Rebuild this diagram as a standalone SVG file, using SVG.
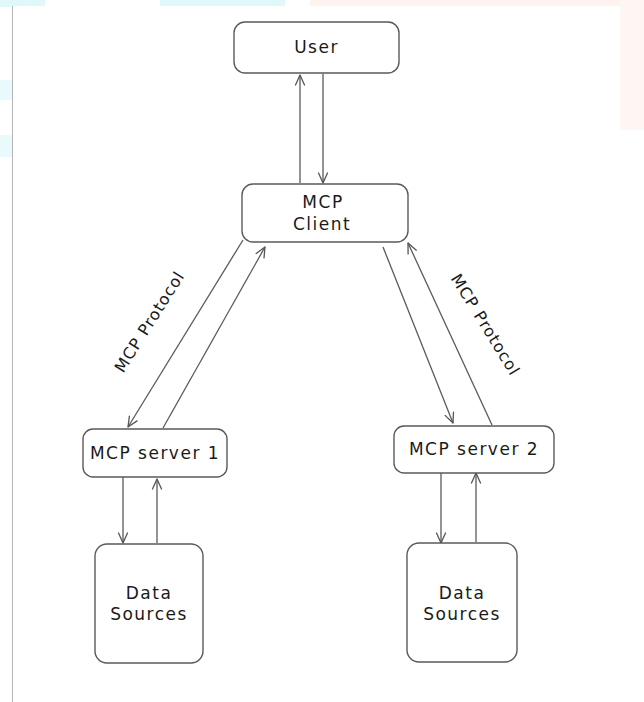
<svg xmlns="http://www.w3.org/2000/svg" width="644" height="702" viewBox="0 0 644 702">
  <defs>
    <marker id="arr" viewBox="0 0 12 12" refX="11" refY="6" markerWidth="12" markerHeight="12" markerUnits="userSpaceOnUse" orient="auto">
      <path d="M1,1.5 L11,6 L1,10.5" fill="none" stroke="#555" stroke-width="1.3" stroke-linecap="round" stroke-linejoin="round"/>
    </marker>
  </defs>
  <style>
    .box { fill: #ffffff; stroke: #5a5a5a; stroke-width: 1.4; }
    .lbl { font-family: "DejaVu Sans", "Liberation Sans", sans-serif; font-size: 17px; fill: #1a1a1a; text-anchor: middle; letter-spacing: 1.5px; }
    .edge-lbl { font-family: "DejaVu Sans", "Liberation Sans", sans-serif; font-size: 16px; fill: #1a1a1a; text-anchor: middle; letter-spacing: 1px; }
    .conn line { stroke: #5a5a5a; stroke-width: 1.3; marker-end: url(#arr); }
  </style>

  <!-- background / watermark fragments -->
  <rect x="0" y="0" width="644" height="702" fill="#ffffff"/>
  <rect x="0" y="0" width="45" height="7" fill="#dff8fa"/>
  <rect x="160" y="0" width="125" height="7" fill="#dff8fa"/>
  <rect x="310" y="0" width="310" height="7" fill="#fef3ee"/>
  <rect x="620" y="0" width="24" height="130" fill="#fef6f2"/>
  <rect x="0" y="80" width="12" height="20" fill="#e8fafb"/>
  <rect x="0" y="135" width="12" height="22" fill="#e8fafb"/>
  <rect x="12" y="6" width="608" height="696" fill="#ffffff"/>
  <line x1="12.5" y1="6" x2="12.5" y2="702" stroke="#b4b4b4" stroke-width="1"/>

  <g id="connectors" class="conn">
    <line x1="300" y1="183" x2="300" y2="75"/>
    <line x1="323" y1="74" x2="323" y2="183"/>
    <line x1="243" y1="240" x2="128" y2="427"/>
    <line x1="163" y1="428" x2="265" y2="247"/>
    <line x1="383" y1="247" x2="453" y2="423"/>
    <line x1="492" y1="425" x2="408" y2="243"/>
    <line x1="123" y1="477" x2="123" y2="543"/>
    <line x1="157" y1="543" x2="157" y2="479"/>
    <line x1="441" y1="473" x2="441" y2="543"/>
    <line x1="476" y1="542" x2="476" y2="473"/>
  </g>

  <g id="edge-labels">
    <text class="edge-lbl" transform="translate(150,322) rotate(-57.7)" dy="5">MCP Protocol</text>
    <text class="edge-lbl" transform="translate(485,325) rotate(58.4)" dy="5">MCP Protocol</text>
  </g>

  <g id="user">
    <rect class="box" x="234" y="22" width="165" height="51" rx="11"/>
    <text class="lbl" x="316.5" y="53">User</text>
  </g>

  <g id="mcp-client">
    <rect class="box" x="242" y="184" width="166" height="58" rx="11"/>
    <text class="lbl" x="323" y="208">MCP</text>
    <text class="lbl" x="322" y="230">Client</text>
  </g>

  <g id="mcp-server-1">
    <rect class="box" x="83" y="429" width="144" height="48" rx="10"/>
    <text class="lbl" x="155" y="459">MCP server 1</text>
  </g>

  <g id="mcp-server-2">
    <rect class="box" x="394" y="426" width="160" height="47" rx="10"/>
    <text class="lbl" x="474" y="455">MCP server 2</text>
  </g>

  <g id="data-sources-1">
    <rect class="box" x="95" y="544" width="108" height="119" rx="12"/>
    <text class="lbl" x="149" y="599">Data</text>
    <text class="lbl" x="149" y="620">Sources</text>
  </g>

  <g id="data-sources-2">
    <rect class="box" x="407" y="543" width="110" height="119" rx="12"/>
    <text class="lbl" x="462" y="599">Data</text>
    <text class="lbl" x="462" y="620">Sources</text>
  </g>
</svg>
